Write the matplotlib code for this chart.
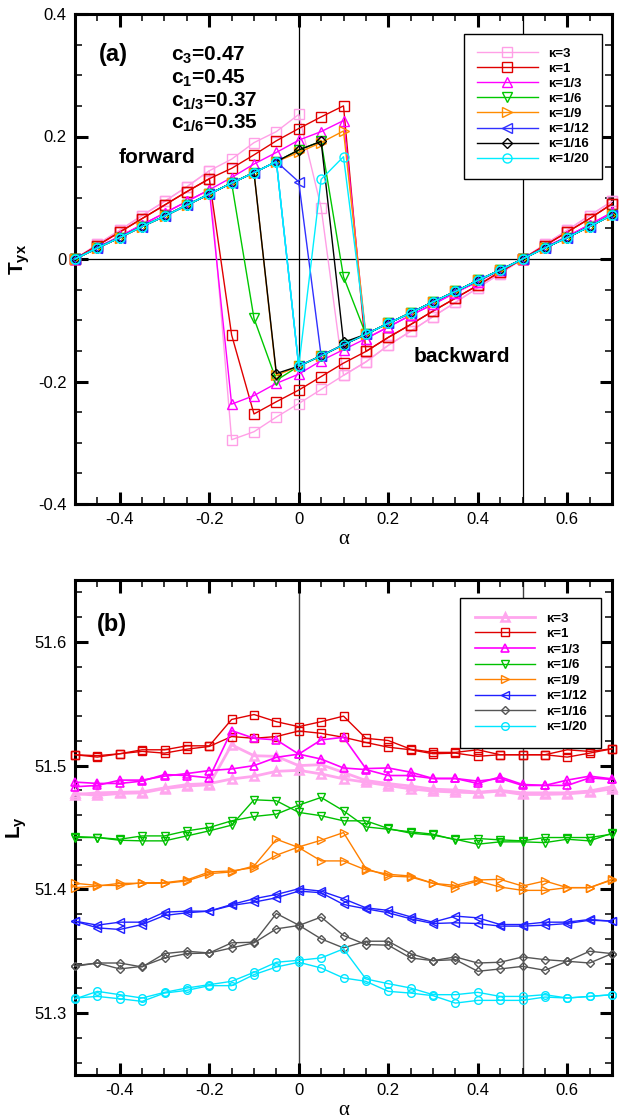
import matplotlib
matplotlib.use('Agg')
import matplotlib.pyplot as plt
from matplotlib.ticker import MultipleLocator, FuncFormatter

plt.rcParams['font.family'] = ['Liberation Sans', 'DejaVu Sans']
plt.rcParams['mathtext.fontset'] = 'custom'
plt.rcParams['mathtext.rm'] = 'Liberation Sans'
plt.rcParams['mathtext.bf'] = 'Liberation Sans:bold'
plt.rcParams['mathtext.it'] = 'Liberation Sans:italic'

# ---------------- data ----------------
alpha = [-0.5, -0.45, -0.4, -0.35, -0.3, -0.25, -0.2, -0.15, -0.1, -0.05, 0.0,
         0.05, 0.1, 0.15, 0.2, 0.25, 0.3, 0.35, 0.4, 0.45, 0.5, 0.55, 0.6, 0.65, 0.7]
kappa_labels = ['κ=3', 'κ=1', 'κ=1/3', 'κ=1/6', 'κ=1/9', 'κ=1/12', 'κ=1/16', 'κ=1/20']
c_labels = ['3', '1', '1/3', '1/6']
c_values = ['0.47', '0.45', '0.37', '0.35']

# panel (a): T_yx, forward and backward sweeps
T_fwd_k3 = [0.000, 0.024, 0.047, 0.071, 0.094, 0.118, 0.144, 0.163, 0.190, 0.208, 0.236, 0.084, -0.190,
            -0.168, -0.141, -0.118, -0.094, -0.071, -0.047, -0.024, 0.000, 0.024, 0.047, 0.071, 0.094]
T_bwd_k3 = [0.000, 0.024, 0.047, 0.071, 0.094, 0.118, 0.144, -0.295, -0.282, -0.258, -0.236, -0.213, -0.190,
            -0.168, -0.141, -0.118, -0.094, -0.071, -0.047, -0.024, 0.000, 0.024, 0.047, 0.071, 0.094]
T_fwd_k1 = [0.000, 0.022, 0.044, 0.066, 0.088, 0.110, 0.131, 0.148, 0.170, 0.193, 0.213, 0.232, 0.250,
            -0.151, -0.128, -0.107, -0.085, -0.064, -0.043, -0.021, 0.000, 0.022, 0.044, 0.066, 0.090]
T_bwd_k1 = [0.000, 0.022, 0.044, 0.066, 0.088, 0.110, 0.131, -0.124, -0.253, -0.233, -0.214, -0.192, -0.170,
            -0.151, -0.128, -0.107, -0.085, -0.064, -0.043, -0.021, 0.000, 0.022, 0.044, 0.066, 0.090]
T_fwd_k13 = [0.000, 0.019, 0.037, 0.056, 0.075, 0.094, 0.113, 0.133, 0.155, 0.174, 0.194, 0.208, 0.226,
             -0.130, -0.111, -0.092, -0.074, -0.055, -0.037, -0.018, 0.000, 0.019, 0.037, 0.056, 0.076]
T_bwd_k13 = [0.000, 0.019, 0.037, 0.056, 0.075, 0.094, 0.113, -0.237, -0.223, -0.203, -0.188, -0.166, -0.148,
             -0.130, -0.111, -0.092, -0.074, -0.055, -0.037, -0.018, 0.000, 0.019, 0.037, 0.056, 0.076]
T_fwd_k16 = [0.000, 0.018, 0.035, 0.053, 0.070, 0.088, 0.106, 0.124, 0.141, 0.159, 0.178, 0.192, -0.029,
             -0.123, -0.105, -0.088, -0.070, -0.053, -0.035, -0.018, 0.000, 0.018, 0.035, 0.053, 0.072]
T_bwd_k16 = [0.000, 0.018, 0.035, 0.053, 0.070, 0.088, 0.106, 0.124, -0.097, -0.198, -0.175, -0.158, -0.140,
             -0.123, -0.105, -0.088, -0.070, -0.053, -0.035, -0.018, 0.000, 0.018, 0.035, 0.053, 0.072]
T_fwd_k19 = [0.000, 0.018, 0.035, 0.053, 0.070, 0.088, 0.106, 0.124, 0.141, 0.159, 0.174, 0.190, 0.209,
             -0.123, -0.105, -0.088, -0.070, -0.053, -0.035, -0.018, 0.000, 0.018, 0.035, 0.053, 0.072]
T_bwd_k19 = [0.000, 0.018, 0.035, 0.053, 0.070, 0.088, 0.106, 0.124, 0.141, -0.190, -0.175, -0.158, -0.140,
             -0.123, -0.105, -0.088, -0.070, -0.053, -0.035, -0.018, 0.000, 0.018, 0.035, 0.053, 0.072]
T_fwd_k112 = [0.000, 0.018, 0.035, 0.053, 0.070, 0.088, 0.106, 0.124, 0.141, 0.159, 0.126, -0.158, -0.140,
              -0.123, -0.105, -0.088, -0.070, -0.053, -0.035, -0.018, 0.000, 0.018, 0.035, 0.053, 0.072]
T_bwd_k112 = [0.000, 0.018, 0.035, 0.053, 0.070, 0.088, 0.106, 0.124, 0.141, 0.159, -0.175, -0.158, -0.140,
              -0.123, -0.105, -0.088, -0.070, -0.053, -0.035, -0.018, 0.000, 0.018, 0.035, 0.053, 0.072]
T_fwd_k116 = [0.000, 0.018, 0.035, 0.053, 0.070, 0.088, 0.106, 0.124, 0.141, 0.159, 0.178, 0.192, -0.136,
              -0.123, -0.105, -0.088, -0.070, -0.053, -0.035, -0.018, 0.000, 0.018, 0.035, 0.053, 0.072]
T_bwd_k116 = [0.000, 0.018, 0.035, 0.053, 0.070, 0.088, 0.106, 0.124, 0.141, -0.187, -0.175, -0.158, -0.140,
              -0.123, -0.105, -0.088, -0.070, -0.053, -0.035, -0.018, 0.000, 0.018, 0.035, 0.053, 0.072]
T_fwd_k120 = [0.000, 0.018, 0.035, 0.053, 0.070, 0.088, 0.106, 0.124, 0.141, 0.159, -0.175, -0.158, -0.140,
              -0.123, -0.105, -0.088, -0.070, -0.053, -0.035, -0.018, 0.000, 0.018, 0.035, 0.053, 0.072]
T_bwd_k120 = [0.000, 0.018, 0.035, 0.053, 0.070, 0.088, 0.106, 0.124, 0.141, 0.159, -0.175, 0.130, 0.167,
              -0.123, -0.105, -0.088, -0.070, -0.053, -0.035, -0.018, 0.000, 0.018, 0.035, 0.053, 0.072]

# panel (b): L_y, two sweeps per kappa
L_k3_a = [51.4766, 51.4780, 51.4785, 51.4788, 51.4820, 51.4847, 51.4855, 51.4892, 51.4914, 51.4954, 51.4962,
          51.4933, 51.4893, 51.4866, 51.4839, 51.4812, 51.4794, 51.4786, 51.4780, 51.4794, 51.4767, 51.4767,
          51.4772, 51.4786, 51.4812]
L_k3_b = [51.4775, 51.4760, 51.4775, 51.4780, 51.4815, 51.4835, 51.4845, 51.5168, 51.5080, 51.5075, 51.5000,
          51.5008, 51.4945, 51.4880, 51.4855, 51.4835, 51.4810, 51.4803, 51.4785, 51.4800, 51.4780, 51.4780,
          51.4780, 51.4795, 51.4830]
L_k1_a = [51.5088, 51.5080, 51.5096, 51.5128, 51.5128, 51.5160, 51.5160, 51.5373, 51.5413, 51.5355, 51.5315,
          51.5355, 51.5400, 51.5221, 51.5203, 51.5133, 51.5107, 51.5107, 51.5128, 51.5088, 51.5088, 51.5088,
          51.5128, 51.5115, 51.5136]
L_k1_b = [51.5088, 51.5069, 51.5096, 51.5115, 51.5101, 51.5133, 51.5155, 51.5235, 51.5221, 51.5235, 51.5280,
          51.5261, 51.5229, 51.5187, 51.5149, 51.5128, 51.5096, 51.5101, 51.5075, 51.5088, 51.5088, 51.5088,
          51.5069, 51.5101, 51.5136]
L_k13_a = [51.4867, 51.4856, 51.4856, 51.4875, 51.4928, 51.4920, 51.4901, 51.5283, 51.5221, 51.5208, 51.5093,
           51.5208, 51.5229, 51.4976, 51.4981, 51.4947, 51.4896, 51.4896, 51.4875, 51.4896, 51.4840, 51.4840,
           51.4883, 51.4915, 51.4893]
L_k13_b = [51.4829, 51.4840, 51.4883, 51.4883, 51.4915, 51.4936, 51.4960, 51.4973, 51.5000, 51.5067, 51.5093,
           51.5053, 51.4981, 51.4968, 51.4920, 51.4920, 51.4896, 51.4896, 51.4856, 51.4909, 51.4848, 51.4840,
           51.4840, 51.4901, 51.4888]
L_k16_a = [51.4427, 51.4419, 51.4405, 51.4432, 51.4432, 51.4473, 51.4500, 51.4554, 51.4589, 51.4608, 51.4681,
           51.4743, 51.4635, 51.4505, 51.4486, 51.4465, 51.4446, 51.4400, 51.4411, 51.4400, 51.4392, 51.4419,
           51.4419, 51.4419, 51.4446]
L_k16_b = [51.4419, 51.4419, 51.4397, 51.4392, 51.4392, 51.4432, 51.4473, 51.4519, 51.4724, 51.4716, 51.4622,
           51.4595, 51.4554, 51.4554, 51.4492, 51.4454, 51.4438, 51.4405, 51.4365, 51.4384, 51.4384, 51.4378,
           51.4405, 51.4392, 51.4454]
L_k19_a = [51.4049, 51.4032, 51.4032, 51.4054, 51.4054, 51.4076, 51.4141, 51.4149, 51.4176, 51.4276, 51.4343,
           51.4397, 51.4459, 51.4168, 51.4108, 51.4100, 51.4049, 51.4014, 51.4068, 51.4019, 51.3992, 51.3992,
           51.4014, 51.4014, 51.4081]
L_k19_b = [51.4014, 51.4027, 51.4049, 51.4049, 51.4049, 51.4068, 51.4127, 51.4141, 51.4189, 51.4405, 51.4338,
           51.4230, 51.4230, 51.4157, 51.4122, 51.4108, 51.4049, 51.4032, 51.4076, 51.4081, 51.4027, 51.4068,
           51.4014, 51.4014, 51.4076]
L_k112_a = [51.3743, 51.3711, 51.3735, 51.3735, 51.3816, 51.3824, 51.3824, 51.3878, 51.3924, 51.3959, 51.4005,
            51.3986, 51.3924, 51.3851, 51.3830, 51.3778, 51.3735, 51.3784, 51.3770, 51.3716, 51.3716, 51.3735,
            51.3735, 51.3757, 51.3743]
L_k112_b = [51.3743, 51.3689, 51.3676, 51.3716, 51.3789, 51.3811, 51.3824, 51.3870, 51.3897, 51.3932, 51.3986,
            51.3973, 51.3878, 51.3843, 51.3811, 51.3762, 51.3724, 51.3730, 51.3724, 51.3703, 51.3703, 51.3711,
            51.3724, 51.3751, 51.3743]
L_k116_a = [51.3384, 51.3405, 51.3405, 51.3373, 51.3481, 51.3500, 51.3486, 51.3568, 51.3573, 51.3805, 51.3711,
            51.3600, 51.3527, 51.3581, 51.3581, 51.3481, 51.3424, 51.3454, 51.3405, 51.3411, 51.3454, 51.3432,
            51.3419, 51.3500, 51.3481]
L_k116_b = [51.3378, 51.3405, 51.3357, 51.3378, 51.3446, 51.3481, 51.3486, 51.3527, 51.3568, 51.3681, 51.3708,
            51.3776, 51.3627, 51.3554, 51.3549, 51.3446, 51.3424, 51.3432, 51.3338, 51.3357, 51.3378, 51.3346,
            51.3419, 51.3405, 51.3481]
L_k120_a = [51.3114, 51.3176, 51.3149, 51.3122, 51.3168, 51.3203, 51.3230, 51.3257, 51.3330, 51.3411, 51.3427,
            51.3446, 51.3519, 51.3276, 51.3238, 51.3203, 51.3149, 51.3149, 51.3168, 51.3135, 51.3135, 51.3149,
            51.3122, 51.3135, 51.3149]
L_k120_b = [51.3122, 51.3135, 51.3116, 51.3095, 51.3162, 51.3184, 51.3222, 51.3222, 51.3311, 51.3373, 51.3411,
            51.3365, 51.3284, 51.3257, 51.3176, 51.3162, 51.3141, 51.3081, 51.3103, 51.3103, 51.3103, 51.3130,
            51.3122, 51.3135, 51.3149]

T_series = [(T_fwd_k3, T_bwd_k3), (T_fwd_k1, T_bwd_k1), (T_fwd_k13, T_bwd_k13), (T_fwd_k16, T_bwd_k16),
            (T_fwd_k19, T_bwd_k19), (T_fwd_k112, T_bwd_k112), (T_fwd_k116, T_bwd_k116), (T_fwd_k120, T_bwd_k120)]
L_series = [(L_k3_a, L_k3_b), (L_k1_a, L_k1_b), (L_k13_a, L_k13_b), (L_k16_a, L_k16_b),
            (L_k19_a, L_k19_b), (L_k112_a, L_k112_b), (L_k116_a, L_k116_b), (L_k120_a, L_k120_b)]

# ---------------- styles ----------------
markers = ['s', 's', '^', 'v', '>', '<', 'D', 'o']
colors_a = ['#ff9fe6', '#e00000', '#ff00ff', '#00c800', '#ff8c00', '#3030ff', '#000000', '#00eeff']
colors_b = ['#ffa6ee', '#e00000', '#ff00ff', '#00c000', '#ff8000', '#2020ff', '#555555', '#00e5ff']
markers_b = ['^', 's', '^', 'v', '>', '<', 'D', 'o']
lw_b = [2.0, 1.0, 1.2, 1.0, 1.0, 1.0, 1.0, 1.0]
mew_b = [1.8, 1.0, 1.2, 1.0, 1.0, 1.0, 1.0, 1.0]

W, H = 627, 1120
fig = plt.figure(figsize=(W / 100, H / 100), dpi=100)


def px_axes(x0, y0, x1, y1):
    return fig.add_axes([x0 / W, 1 - y1 / H, (x1 - x0) / W, (y1 - y0) / H])


def style_axes(ax, yminor):
    for s in ax.spines.values():
        s.set_linewidth(2.2)
    ax.tick_params(which='both', direction='in', top=True, right=True, labelsize=12)
    ax.tick_params(which='major', length=9, width=2.2, pad=6)
    ax.tick_params(which='minor', length=5, width=1.1)
    ax.xaxis.set_major_locator(MultipleLocator(0.2))
    ax.xaxis.set_minor_locator(MultipleLocator(0.05))
    ax.yaxis.set_minor_locator(MultipleLocator(yminor))
    ax.xaxis.set_major_formatter(FuncFormatter(lambda v, p: '0' if abs(v) < 1e-9 else f'{v:.1f}'))


# ---------------- panel (a) ----------------
axa = px_axes(75, 14, 612, 504)
axa.set_xlim(-0.5, 0.7)
axa.set_ylim(-0.4, 0.4)
axa.axvline(0, color='black', lw=0.9, zorder=1)
axa.axvline(0.5, color='black', lw=0.9, zorder=1)
axa.axhline(0, color='black', lw=0.9, zorder=1)
for i, (fw, bw) in enumerate(T_series):
    kw = dict(color=colors_a[i], marker=markers[i], mfc='none', mec=colors_a[i],
              ms=6.5 if markers[i] != 'D' else 5.5, mew=1.0, lw=1.0, clip_on=False, zorder=3 + i)
    axa.plot(alpha, fw, label=kappa_labels[i], **kw)
    axa.plot(alpha, bw, **kw)
style_axes(axa, 0.05)
axa.yaxis.set_major_locator(MultipleLocator(0.2))
axa.yaxis.set_major_formatter(FuncFormatter(lambda v, p: '0' if abs(v) < 1e-9 else f'{v:.1f}'))
axa.set_xlabel('α', fontsize=15, family=['Liberation Serif', 'DejaVu Serif'], labelpad=2)
axa.set_ylabel(r'$\mathbf{T_{yx}}$', fontsize=15, labelpad=4)
leg = axa.legend(loc='upper left', bbox_to_anchor=(0.724, 0.959), frameon=True, fancybox=False,
                 edgecolor='black', framealpha=1, prop={'weight': 'bold', 'size': 9.5},
                 handlelength=4.6, handletextpad=0.8, labelspacing=0.22, borderpad=1.0, borderaxespad=0)
leg.get_frame().set_linewidth(1.0)

axa.text(0.045, 0.918, '(a)', transform=axa.transAxes, fontsize=17, fontweight='bold', va='center')
c_y = [55, 78, 101, 123]
for lab, val, yy in zip(c_labels, c_values, c_y):
    fig.text(171 / W, 1 - yy / H, r'$\mathbf{c_{' + lab + r'}}$=' + val, fontsize=15,
             fontweight='bold', va='center', ha='left')
fig.text(119 / W, 1 - 157 / H, 'forward', fontsize=15, fontweight='bold', va='center')
fig.text(414 / W, 1 - 357 / H, 'backward', fontsize=15, fontweight='bold', va='center')

# ---------------- panel (b) ----------------
axb = px_axes(75, 580, 612, 1075)
axb.set_xlim(-0.5, 0.7)
axb.set_ylim(51.25, 51.65)
axb.axvline(0, color='#404040', lw=1.0, zorder=1)
axb.axvline(0.5, color='#404040', lw=1.0, zorder=1)
for i, (s1, s2) in enumerate(L_series):
    kw = dict(color=colors_b[i], marker=markers_b[i], mfc='none', mec=colors_b[i],
              ms=5.5 if markers_b[i] != 'D' else 4.5, mew=mew_b[i], lw=lw_b[i],
              clip_on=False, zorder=3 + i)
    axb.plot(alpha, s1, label=kappa_labels[i], **kw)
    axb.plot(alpha, s2, **kw)
style_axes(axb, 0.02)
axb.yaxis.set_major_locator(MultipleLocator(0.1))
axb.yaxis.set_major_formatter(FuncFormatter(lambda v, p: f'{v:.1f}'))
axb.set_xlabel('α', fontsize=15, family=['Liberation Serif', 'DejaVu Serif'], labelpad=2)
axb.set_ylabel(r'$\mathbf{L_{y}}$', fontsize=15, labelpad=4)
legb = axb.legend(loc='upper left', bbox_to_anchor=(0.717, 0.964), frameon=True, fancybox=False,
                  edgecolor='black', framealpha=1, prop={'weight': 'bold', 'size': 9.5},
                  handlelength=4.6, handletextpad=0.8, labelspacing=0.25, borderpad=1.1, borderaxespad=0)
legb.get_frame().set_linewidth(1.0)
axb.text(0.04, 0.91, '(b)', transform=axb.transAxes, fontsize=17, fontweight='bold', va='center')

fig.savefig('out.png', dpi=100)
